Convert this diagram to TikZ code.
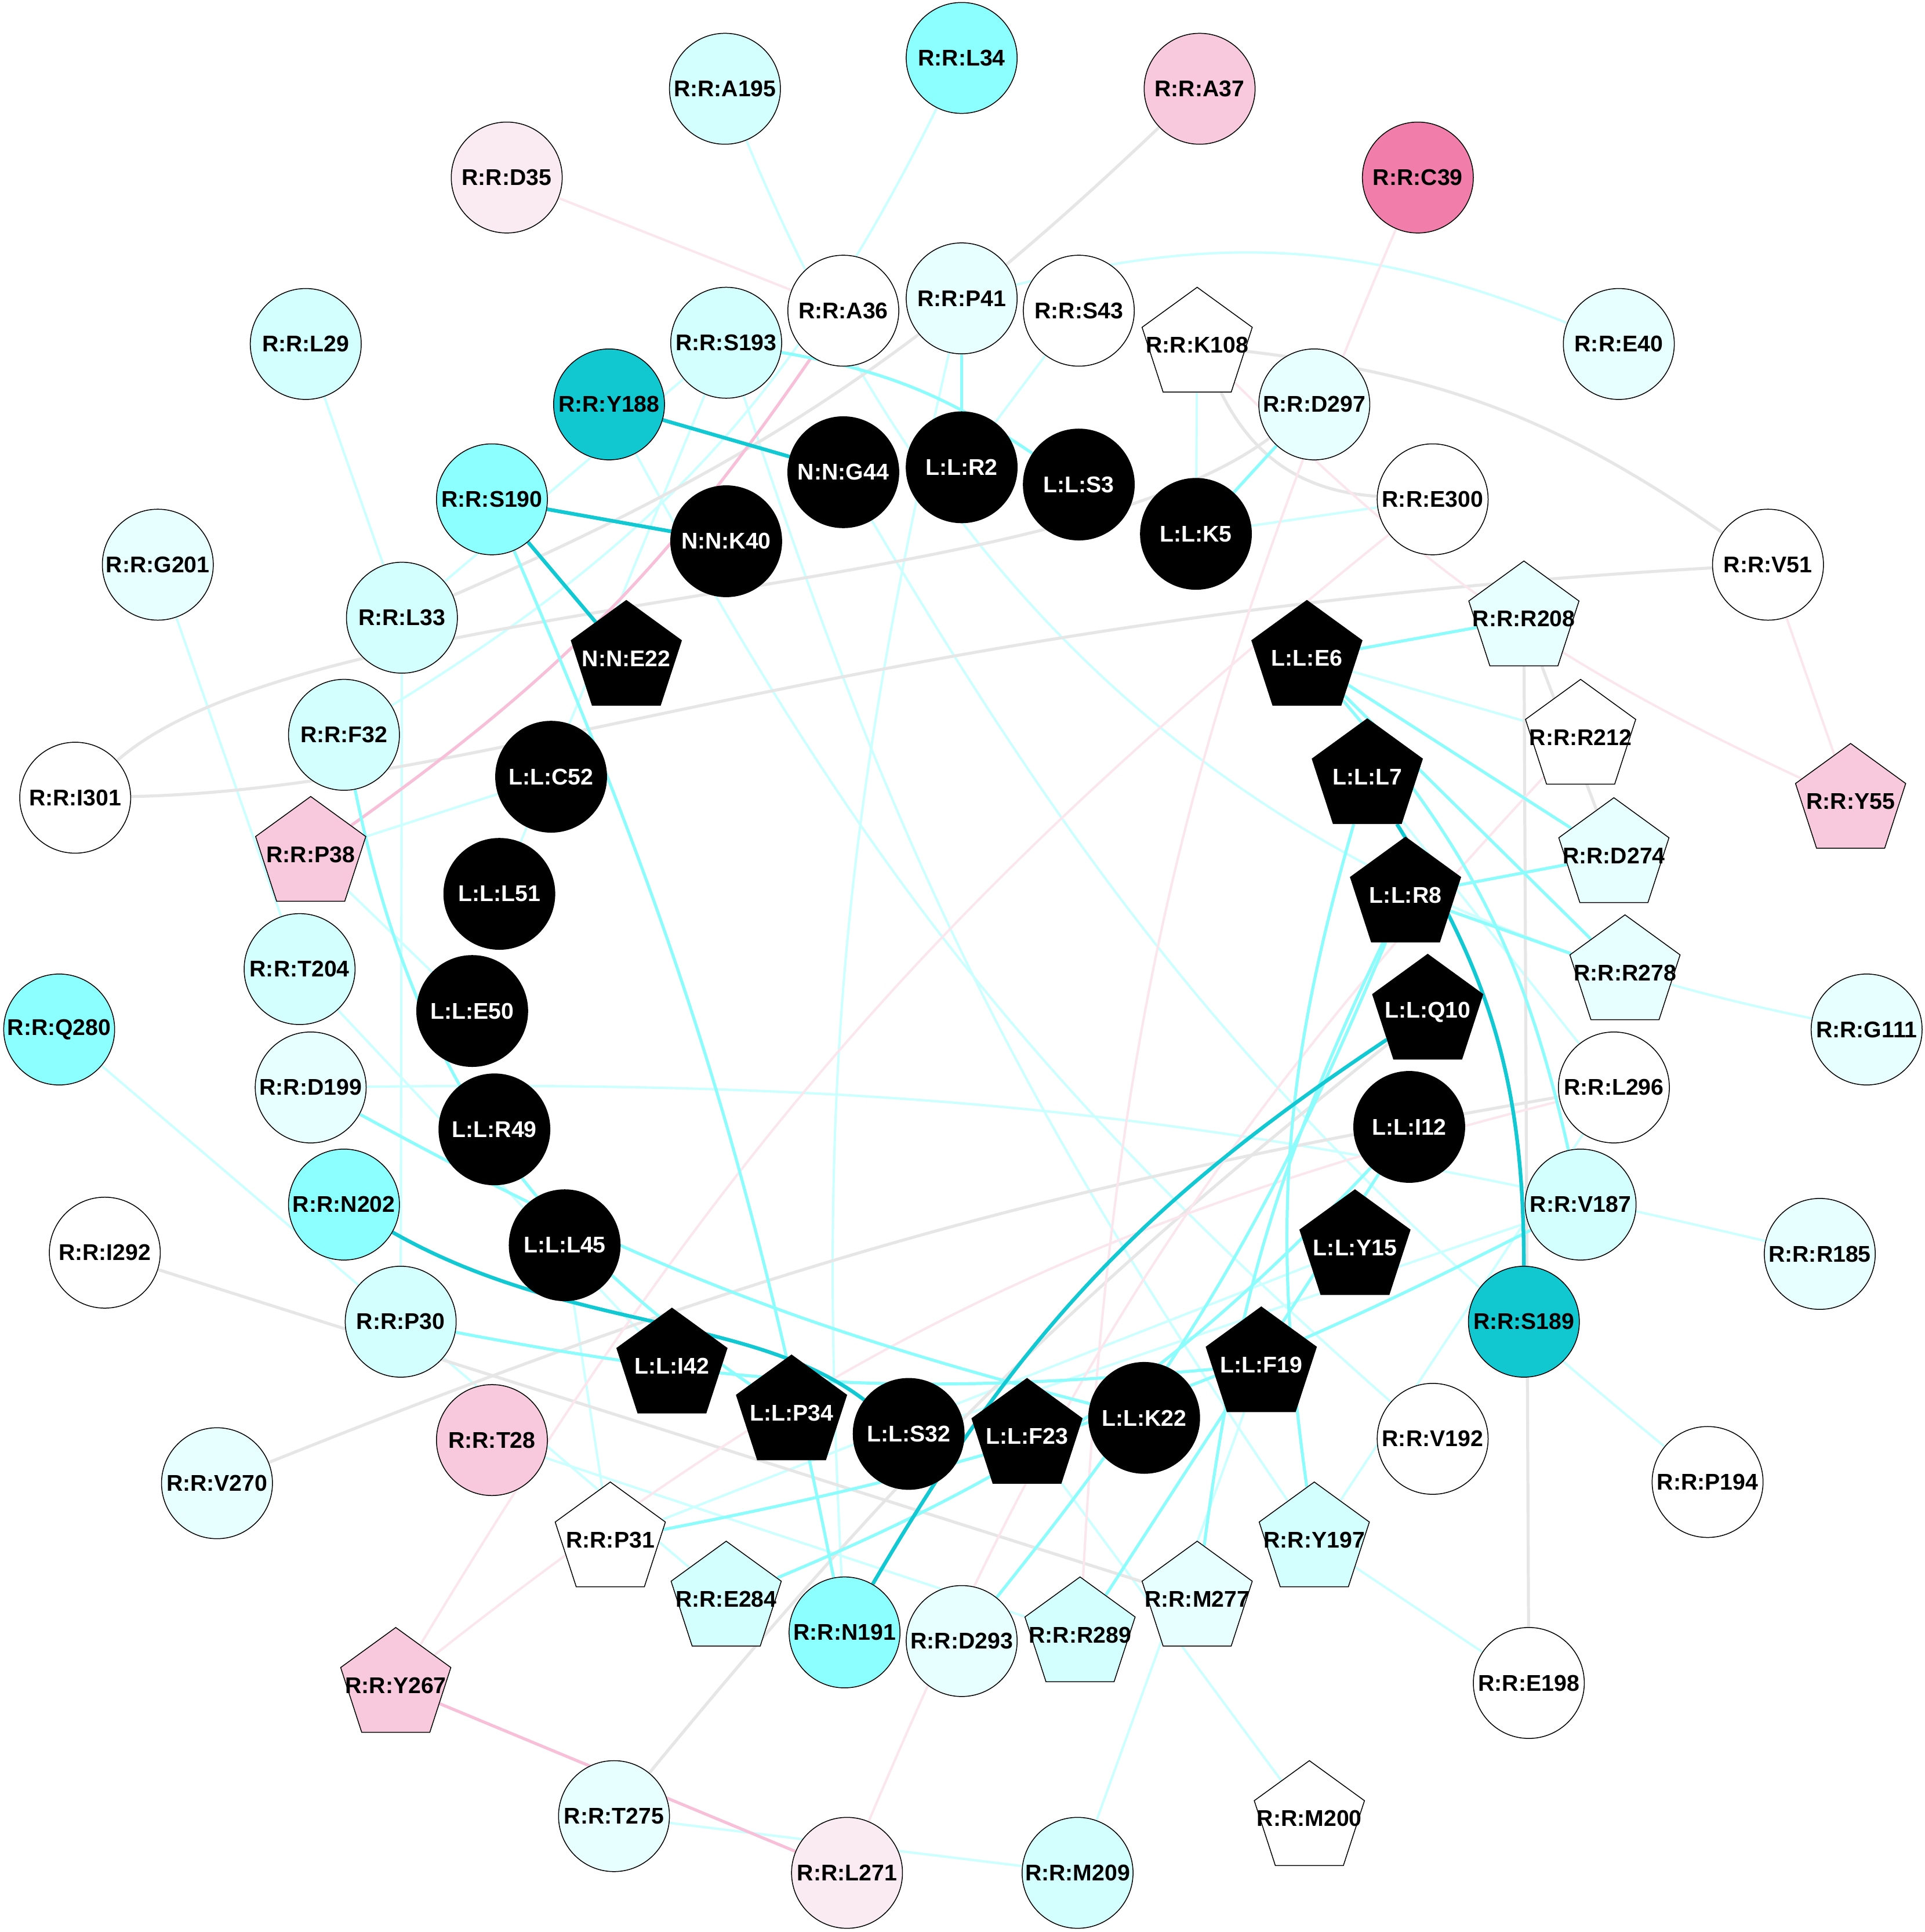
\documentclass[tikz,border=0pt]{standalone}
\usepackage{fontspec}
\setmainfont{Liberation Sans}
\usetikzlibrary{shapes.geometric,backgrounds}
\definecolor{cyanA}{HTML}{8CFFFF}
\definecolor{cyanD}{HTML}{11C8D1}
\definecolor{cyanL}{HTML}{D4FFFF}
\definecolor{cyanX}{HTML}{E8FFFF}
\definecolor{pinkA}{HTML}{F8C8DC}
\definecolor{pinkL}{HTML}{FAEBF2}
\definecolor{pinkD}{HTML}{F07DAA}
\definecolor{lnDark}{HTML}{12C8D2}
\definecolor{lnMid}{HTML}{8CFCFC}
\definecolor{lnPale}{HTML}{CCFFFF}
\definecolor{lnGray}{HTML}{E6E6E6}
\definecolor{lnRose}{HTML}{F8C0D8}
\definecolor{lnRoseL}{HTML}{FBE6EE}
\newcommand{\lab}[1]{\makebox[0pt]{#1}}

\begin{document}
\begin{tikzpicture}[x=0.02cm,y=0.02cm,
		every node/.style={font=\fontsize{10.5}{12}\selectfont\bfseries},
		rnode/.style={circle,draw=black,line width=0.4pt,minimum size=1.8cm,inner sep=0pt},
		rpent/.style={regular polygon,regular polygon sides=5,draw=black,line width=0.4pt,minimum size=1.88cm,inner sep=0pt},
		lnode/.style={rnode,fill=black,text=white},
		lpent/.style={rpent,fill=black,text=white},
		edgedark/.style={draw=lnDark,line width=1.7pt},
		edgemid/.style={draw=lnMid,line width=1.4pt},
		edgepale/.style={draw=lnPale,line width=1.1pt},
		edgegray/.style={draw=lnGray,line width=1.4pt},
		edgerose/.style={draw=lnRose,line width=1.4pt},
		edgerosel/.style={draw=lnRoseL,line width=1.1pt}]
		\useasboundingbox (0,0) rectangle (1561,-1567);
		
		% outer residues, circles
		\node[rnode,fill=cyanA] (L34) at (780,-47) {\lab{R:R:L34}};
		\node[rnode,fill=cyanL] (A195) at (588,-72) {\lab{R:R:A195}};
		\node[rnode,fill=pinkA] (A37) at (973,-72) {\lab{R:R:A37}};
		\node[rnode,fill=pinkL] (D35) at (411,-144) {\lab{R:R:D35}};
		\node[rnode,fill=pinkD] (C39) at (1150,-144) {\lab{R:R:C39}};
		\node[rnode,fill=white] (A36) at (684,-252) {\lab{R:R:A36}};
		\node[rnode,fill=cyanX] (P41) at (780,-242) {\lab{R:R:P41}};
		\node[rnode,fill=white] (S43) at (875,-252) {\lab{R:R:S43}};
		\node[rnode,fill=cyanX] (E40) at (1313,-279) {\lab{R:R:E40}};
		\node[rnode,fill=cyanL] (L29) at (248,-279) {\lab{R:R:L29}};
		\node[rnode,fill=cyanL] (S193) at (589,-278) {\lab{R:R:S193}};
		\node[rnode,fill=cyanD] (Y188) at (494,-328) {\lab{R:R:Y188}};
		\node[rnode,fill=cyanX] (D297) at (1066,-328) {\lab{R:R:D297}};
		\node[rnode,fill=cyanA] (S190) at (399,-405) {\lab{R:R:S190}};
		\node[rnode,fill=white] (E300) at (1162,-405) {\lab{R:R:E300}};
		\node[rnode,fill=cyanX] (G201) at (128,-458) {\lab{R:R:G201}};
		\node[rnode,fill=white] (V51) at (1434,-458) {\lab{R:R:V51}};
		\node[rnode,fill=cyanL] (L33) at (326,-501) {\lab{R:R:L33}};
		\node[rnode,fill=cyanL] (F32) at (279,-596) {\lab{R:R:F32}};
		\node[rnode,fill=white] (I301) at (61,-647) {\lab{R:R:I301}};
		\node[rnode,fill=cyanL] (T204) at (243,-786) {\lab{R:R:T204}};
		\node[rnode,fill=cyanA] (Q280) at (48,-835) {\lab{R:R:Q280}};
		\node[rnode,fill=cyanX] (D199) at (252,-882) {\lab{R:R:D199}};
		\node[rnode,fill=cyanA] (N202) at (279,-977) {\lab{R:R:N202}};
		\node[rnode,fill=white] (I292) at (85,-1016) {\lab{R:R:I292}};
		\node[rnode,fill=cyanX] (G111) at (1514,-835) {\lab{R:R:G111}};
		\node[rnode,fill=white] (L296) at (1309,-882) {\lab{R:R:L296}};
		\node[rnode,fill=cyanL] (V187) at (1282,-977) {\lab{R:R:V187}};
		\node[rnode,fill=cyanX] (R185) at (1476,-1017) {\lab{R:R:R185}};
		\node[rnode,fill=cyanL] (P30) at (325,-1072) {\lab{R:R:P30}};
		\node[rnode,fill=pinkA] (T28) at (399,-1168) {\lab{R:R:T28}};
		\node[rnode,fill=cyanX] (V270) at (176,-1203) {\lab{R:R:V270}};
		\node[rnode,fill=cyanD] (S189) at (1236,-1072) {\lab{R:R:S189}};
		\node[rnode,fill=white] (V192) at (1162,-1167) {\lab{R:R:V192}};
		\node[rnode,fill=white] (P194) at (1385,-1202) {\lab{R:R:P194}};
		\node[rnode,fill=white] (E198) at (1240,-1365) {\lab{R:R:E198}};
		\node[rnode,fill=cyanA] (N191) at (685,-1324) {\lab{R:R:N191}};
		\node[rnode,fill=cyanX] (D293) at (780,-1331) {\lab{R:R:D293}};
		\node[rnode,fill=cyanX] (T275) at (498,-1473) {\lab{R:R:T275}};
		\node[rnode,fill=pinkL] (L271) at (687,-1519) {\lab{R:R:L271}};
		\node[rnode,fill=cyanL] (M209) at (874,-1519) {\lab{R:R:M209}};
		
		% outer residues, pentagons
		\node[rpent,fill=white] (K108) at (971,-280) {\lab{R:R:K108}};
		\node[rpent,fill=cyanX] (R208) at (1236,-502) {\lab{R:R:R208}};
		\node[rpent,fill=white] (R212) at (1282,-598) {\lab{R:R:R212}};
		\node[rpent,fill=cyanX] (D274) at (1309,-694) {\lab{R:R:D274}};
		\node[rpent,fill=cyanX] (R278) at (1318,-789) {\lab{R:R:R278}};
		\node[rpent,fill=pinkA] (Y55) at (1501,-650) {\lab{R:R:Y55}};
		\node[rpent,fill=pinkA] (P38) at (252,-693) {\lab{R:R:P38}};
		\node[rpent,fill=pinkA] (Y267) at (321,-1367) {\lab{R:R:Y267}};
		\node[rpent,fill=white] (P31) at (495,-1249) {\lab{R:R:P31}};
		\node[rpent,fill=cyanL] (E284) at (589,-1297) {\lab{R:R:E284}};
		\node[rpent,fill=cyanL] (R289) at (876,-1326) {\lab{R:R:R289}};
		\node[rpent,fill=cyanX] (M277) at (971,-1297) {\lab{R:R:M277}};
		\node[rpent,fill=cyanL] (Y197) at (1066,-1249) {\lab{R:R:Y197}};
		\node[rpent,fill=white] (M200) at (1062,-1475) {\lab{R:R:M200}};
		
		% inner ring
		\node[lnode] (G44) at (684,-383) {\lab{N:N:G44}};
		\node[lnode] (R2) at (780,-379) {\lab{L:L:R2}};
		\node[lnode] (S3) at (875,-393) {\lab{L:L:S3}};
		\node[lnode] (K40) at (589,-439) {\lab{N:N:K40}};
		\node[lnode] (K5) at (970,-433) {\lab{L:L:K5}};
		\node[lnode] (C52) at (447,-630) {\lab{L:L:C52}};
		\node[lnode] (L51) at (405,-725) {\lab{L:L:L51}};
		\node[lnode] (E50) at (383,-820) {\lab{L:L:E50}};
		\node[lnode] (R49) at (401,-916) {\lab{L:L:R49}};
		\node[lnode] (L45) at (458,-1010) {\lab{L:L:L45}};
		\node[lnode] (S32) at (737,-1163) {\lab{L:L:S32}};
		\node[lnode] (K22) at (928,-1150) {\lab{L:L:K22}};
		\node[lnode] (I12) at (1143,-914) {\lab{L:L:I12}};
		\node[lpent] (E22) at (508,-534) {\lab{N:N:E22}};
		\node[lpent] (E6) at (1060,-534) {\lab{L:L:E6}};
		\node[lpent] (L7) at (1109,-630) {\lab{L:L:L7}};
		\node[lpent] (R8) at (1140,-726) {\lab{L:L:R8}};
		\node[lpent] (Q10) at (1158,-821) {\lab{L:L:Q10}};
		\node[lpent] (Y15) at (1099,-1012) {\lab{L:L:Y15}};
		\node[lpent] (F19) at (1023,-1107) {\lab{L:L:F19}};
		\node[lpent] (F23) at (833,-1165) {\lab{L:L:F23}};
		\node[lpent] (P34) at (642,-1146) {\lab{L:L:P34}};
		\node[lpent] (I42) at (545,-1108) {\lab{L:L:I42}};
		
		\begin{scope}[on background layer]
		% pale cyan
		\draw[edgepale] (L34) to[bend left=16] (F32);
		\draw[edgepale] (A195) to[bend right=28] (G111);
		\draw[edgepale] (S193) -- (L51);
		\draw[edgepale] (S193) -- (L33);
		\draw[edgepale] (S193) to[bend right=8] (Y197);
		\draw[edgepale] (P41) to[bend right=8] (N191);
		\draw[edgepale] (P41) to[bend left=18] (E40);
		\draw[edgepale] (S43) -- (R2);
		\draw[edgepale] (K108) -- (K5);
		\draw[edgepale] (E300) -- (K5);
		\draw[edgepale] (L29) -- (L33);
		\draw[edgepale] (G201) -- (T204);
		\draw[edgepale] (L33) -- (P30);
		\draw[edgepale] (P38) -- (C52);
		\draw[edgepale] (P38) -- (E50);
		\draw[edgepale] (T204) -- (I42);
		\draw[edgepale] (D199) to[bend left=7] (R185);
		\draw[edgepale] (Q280) -- (E284);
		\draw[edgepale] (T28) -- (R289);
		\draw[edgepale] (P31) -- (L45);
		\draw[edgepale] (P31) -- (Y15);
		\draw[edgepale] (M200) -- (F23);
		\draw[edgepale] (M209) -- (F19);
		\draw[edgepale] (T275) -- (M209);
		\draw[edgepale] (Y197) -- (E198);
		\draw[edgepale] (Y197) -- (L296);
		\draw[edgepale] (G44) to[bend right=10] (P194);
		\draw[edgepale] (Y188) to[bend right=10] (V192);
		\draw[edgepale] (V187) -- (S32);
		\draw[edgepale] (E6) -- (R212);
		\draw[edgepale] (L7) -- (L296);
		% gray
		\draw[edgegray] (A37) to[bend left=10] (L33);
		\draw[edgegray] (K108) to[bend left=14] (V51);
		\draw[edgegray] (K108) to[bend right=30] (E300);
		\draw[edgegray] (I301) .. controls (400,-640) and (700,-500) .. (V51);
		\draw[edgegray] (I301) .. controls (250,-480) and (850,-490) .. (D297);
		\draw[edgegray] (R208) -- (E198);
		\draw[edgegray] (R208) -- (D274);
		\draw[edgegray] (V270) to[bend left=6] (L296);
		\draw[edgegray] (I292) -- (M277);
		\draw[edgegray] (T275) to[bend left=6] (Q10);
		% pink
		\draw[edgerosel] (D35) -- (A36);
		\draw[edgerose] (P38) to[bend right=10] (A36);
		\draw[edgerosel] (C39) to[bend right=10] (R289);
		\draw[edgerosel] (Y267) to[bend left=10] (E300);
		\draw[edgerosel] (K108) to[bend right=10] (Y55);
		\draw[edgerosel] (V51) -- (Y55);
		\draw[edgerose] (Y267) -- (L271);
		\draw[edgerosel] (L271) to[bend left=10] (R212);
		\draw[edgerosel] (Y267) to[bend left=12] (L296);
		% medium cyan
		\draw[edgemid] (P41) -- (R2);
		\draw[edgemid] (S193) to[bend left=12] (S3);
		\draw[edgemid] (D297) -- (K5);
		\draw[edgemid] (E6) -- (R208);
		\draw[edgemid] (E6) -- (D274);
		\draw[edgemid] (E6) -- (R278);
		\draw[edgemid] (E6) to[bend left=14] (V187);
		\draw[edgemid] (R8) -- (D274);
		\draw[edgemid] (R8) -- (R278);
		\draw[edgemid] (S190) to[bend left=6] (N191);
		\draw[edgemid] (F32) to[bend right=22] (P34);
		\draw[edgemid] (D199) to[bend right=7] (K22);
		\draw[edgemid] (P30) to[bend right=8] (F19);
		\draw[edgemid] (P31) to[bend right=8] (V187);
		\draw[edgemid] (E284) to[bend right=12] (I12);
		\draw[edgemid] (D293) to[bend right=8] (R8);
		\draw[edgemid] (R8) to[bend right=9] (M277);
		\draw[edgemid] (Y197) to[bend left=12] (L7);
		\draw[edgemid] (I12) -- (R289);
		% dark cyan
		\draw[edgedark] (Y188) -- (G44);
		\draw[edgedark] (S190) -- (K40);
		\draw[edgedark] (S190) -- (E22);
		\draw[edgedark] (N202) .. controls (460,-1080) and (610,-1066) .. (S32);
		\draw[edgedark] (L7) to[bend left=16] (S189);
		\draw[edgedark] (Q10) to[bend right=13] (N191);
		\end{scope}
	\end{tikzpicture}
\end{document}
